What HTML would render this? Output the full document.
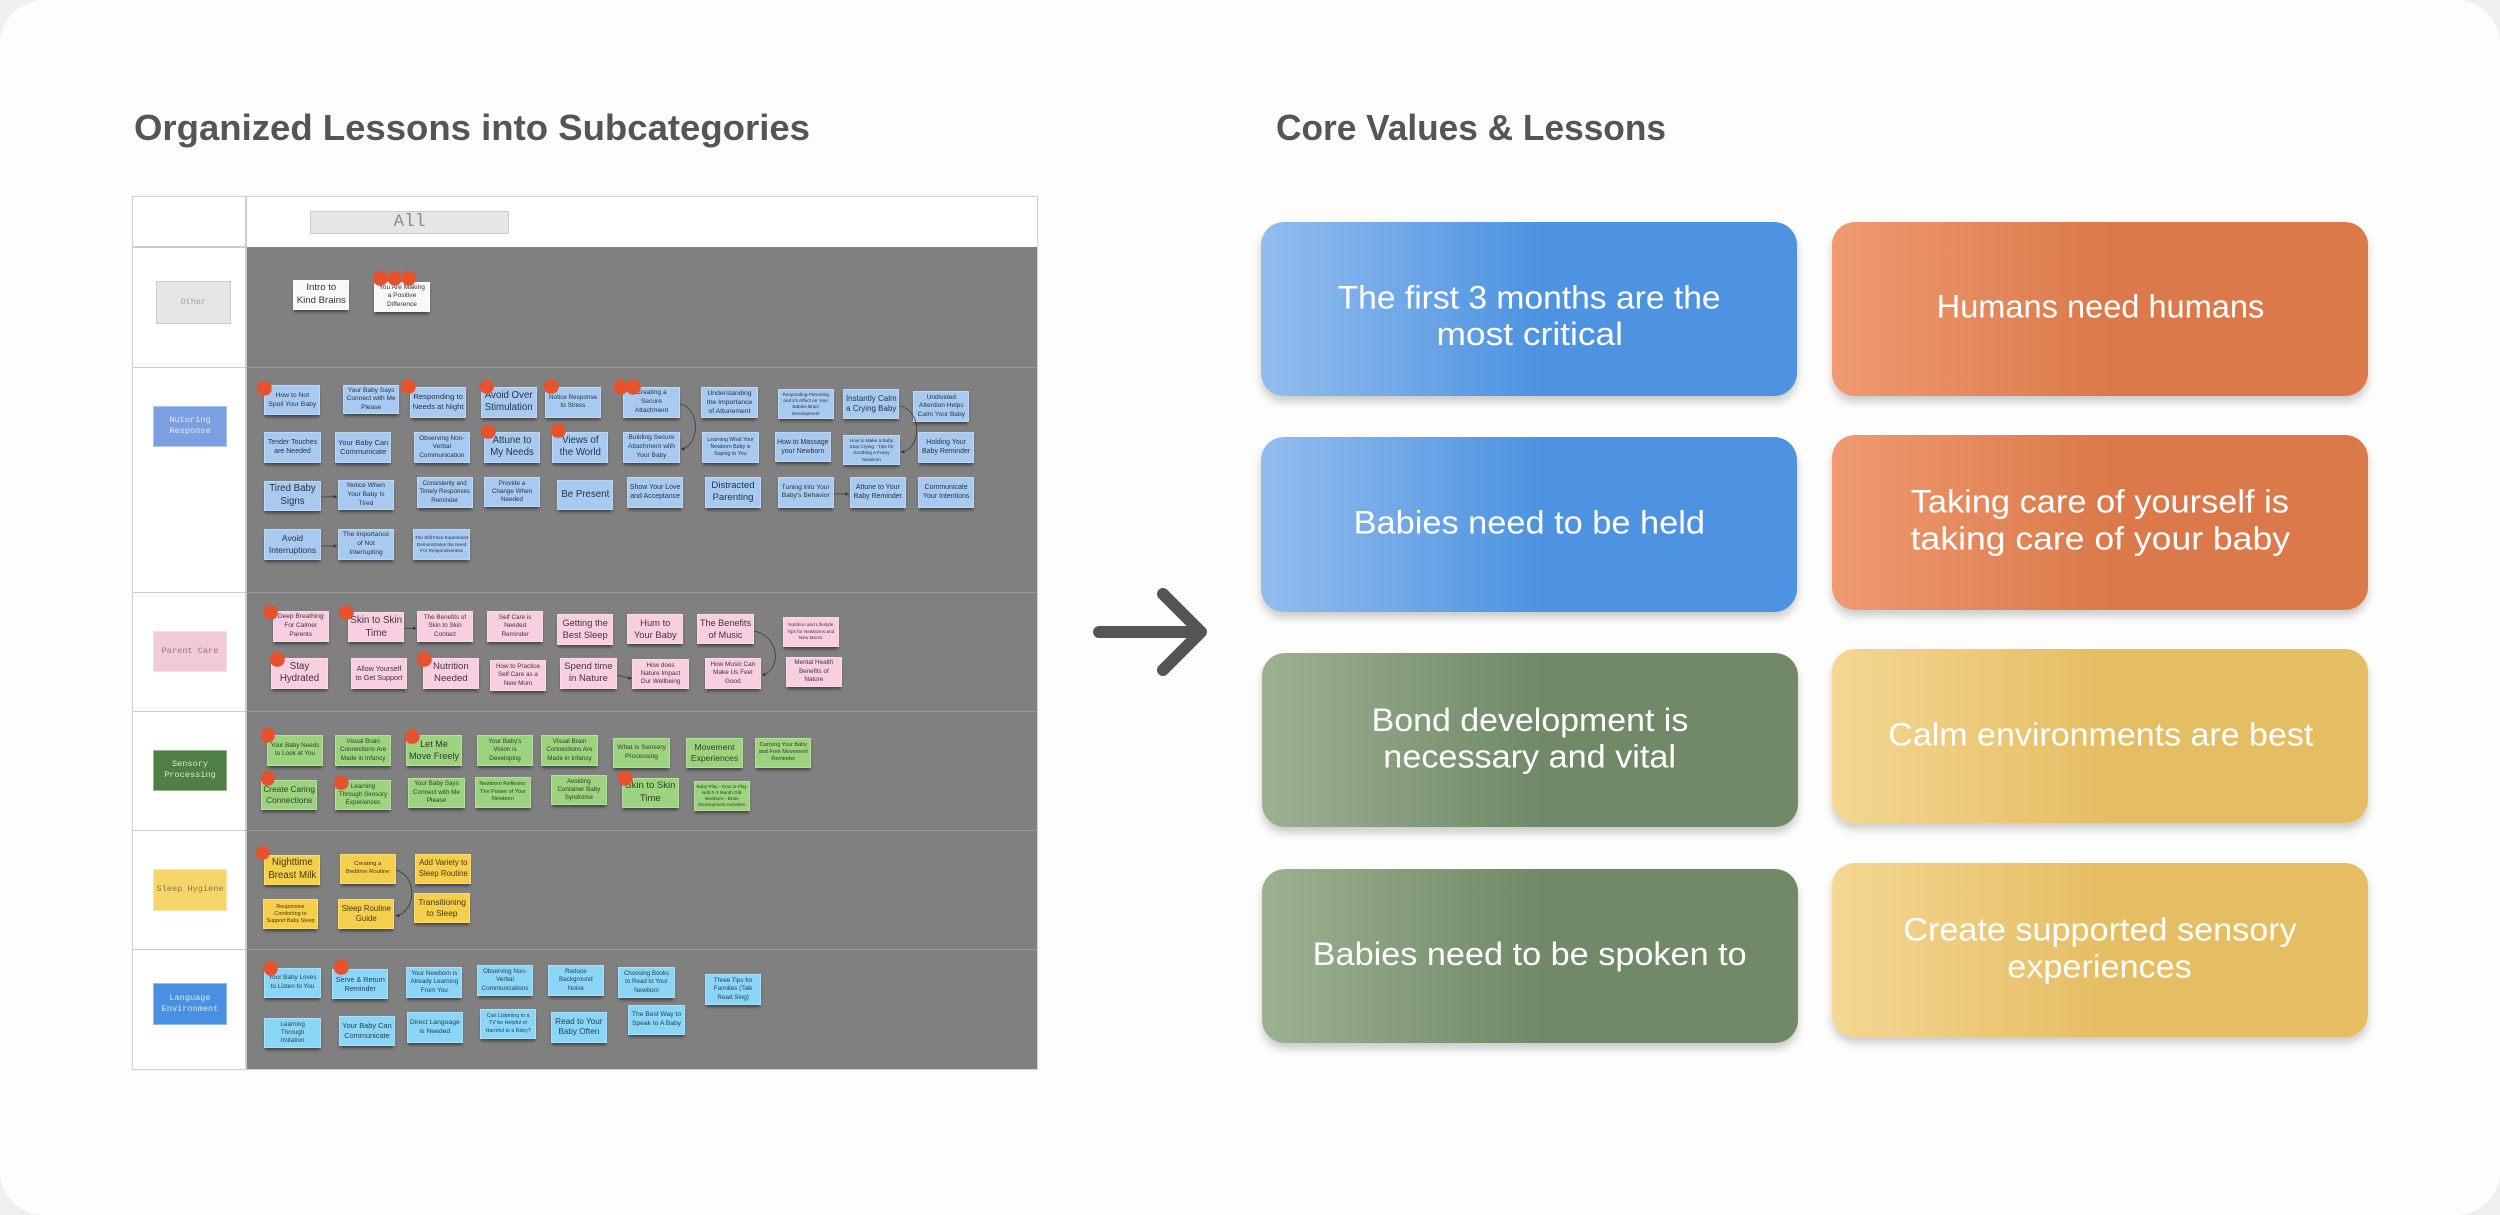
<!DOCTYPE html>
<html><head><meta charset="utf-8"><title>Core Values &amp; Lessons</title>
<style>
html,body{margin:0;padding:0;width:2500px;height:1215px;overflow:hidden;background:#efefef}
#p{position:absolute;left:0;top:0;width:2500px;height:1215px;background:#fdfdfb;border-radius:44px;overflow:hidden;font-family:"Liberation Sans",sans-serif}
#board{position:absolute;left:0;top:0;width:1100px;height:1100px;filter:blur(.35px)}
.r{position:absolute}
.n{position:absolute;display:flex;align-items:center;justify-content:center;text-align:center;white-space:nowrap;line-height:1.33;box-sizing:border-box;box-shadow:0 3px 3px -1px rgba(0,0,0,.5);color:#263443;border:.6px solid rgba(255,255,255,.28)}
.b{background:#a9caf0}.w{background:#f8f8f8;color:#333}.k{background:#f8cfe0;color:#43333b}.g{background:#9dd27f;color:#2a4425}.y{background:#f5cf4c;color:#443910}.c{background:#8bd5f7;color:#254453}
.d{position:absolute;width:14.5px;height:14.5px;border-radius:50%;background:#e5522e;transform:translate(-7.25px,-7.25px)}
.l{position:absolute;left:153.3px;width:73.4px;height:41.6px;display:flex;align-items:center;justify-content:center;text-align:center;font-family:"Liberation Mono",monospace;font-size:8.6px;line-height:11.3px;box-sizing:border-box;border:.7px solid rgba(255,255,255,.4)}
.card{position:absolute;border-radius:23px;box-shadow:0 6px 9px rgba(0,0,0,.2)}
.bl{left:1261px;width:536px;background:linear-gradient(90deg,#93bdee 0%,#4d93e1 52%)}
.gr{left:1261.5px;width:536px;background:linear-gradient(90deg,#9cb190 0%,#718966 52%)}
.or{left:1831.5px;width:536.5px;background:linear-gradient(90deg,#ef9a70 0%,#db794a 52%)}
.ye{left:1831.5px;width:536.5px;background:linear-gradient(90deg,#f4d793 0%,#e5bd62 52%)}
svg{position:absolute;left:0;top:0}
</style></head><body><div id="p">

<div id="board">
<div class="r" style="left:133px;top:197px;width:904px;height:872px;background:#fff;box-shadow:0 0 0 1.2px #d4d4d4"></div>
<div class="r" style="left:246px;top:247px;width:791px;height:822px;background:#808080"></div>
<div class="r" style="left:245.3px;top:197px;width:1.4px;height:872px;background:#ccc"></div>
<div class="r" style="left:133px;top:246.4px;width:113px;height:1.2px;background:#ccc"></div>
<div class="r" style="left:133px;top:366.5px;width:113px;height:1.4px;background:#ccc"></div>
<div class="r" style="left:133px;top:591.5px;width:113px;height:1.4px;background:#ccc"></div>
<div class="r" style="left:133px;top:710.5px;width:113px;height:1.4px;background:#ccc"></div>
<div class="r" style="left:133px;top:829.5px;width:113px;height:1.4px;background:#ccc"></div>
<div class="r" style="left:133px;top:948.5px;width:113px;height:1.4px;background:#ccc"></div>
<div class="r" style="left:246px;top:366.5px;width:791px;height:1.4px;background:#999"></div>
<div class="r" style="left:246px;top:591.5px;width:791px;height:1.4px;background:#999"></div>
<div class="r" style="left:246px;top:710.5px;width:791px;height:1.4px;background:#999"></div>
<div class="r" style="left:246px;top:829.5px;width:791px;height:1.4px;background:#999"></div>
<div class="r" style="left:246px;top:948.5px;width:791px;height:1.4px;background:#999"></div>

<div class="r" style="left:310px;top:211px;width:199px;height:23px;background:#e6e6e6;border:1px solid #ccc;box-sizing:border-box;text-align:center;font:17.8px/21px 'Liberation Mono',monospace;color:#8c8c8c">All</div>

<div class="l" style="top:281px;height:42.7px;left:156px;width:74.7px;background:#e6e6e6;border:1px solid #ccc;color:#a0a0a0">Other</div>
<div class="l" style="top:405.7px;background:#7ba0e2;color:#e2eafa">Nuturing<br>Response</div>
<div class="l" style="top:630.7px;background:#f1c9d7;color:#8a7a80">Parent Care</div>
<div class="l" style="top:749.7px;background:#4f7f42;color:#dce6d8">Sensory<br>Processing</div>
<div class="l" style="top:869px;background:#f8d568;color:#8a7a45">Sleep Hygiene</div>
<div class="l" style="top:983px;background:#4a90e2;color:#d8e8fa">Language<br>Environment</div>

<!-- Other -->
<div class="n w" style="left:293.3px;top:280px;width:56px;height:30px;font-size:9.6px">Intro to<br>Kind Brains</div>
<div class="n w" style="left:374px;top:281.7px;width:56px;height:30px;font-size:6.6px">You Are Making<br>a Positive<br>Difference</div>

<!-- Nurturing -->
<div class="n b" style="left:264.3px;top:385px;width:56px;height:30px;font-size:6.8px">How to Not<br>Spoil Your Baby</div>
<div class="n b" style="left:343px;top:385px;width:56.3px;height:29.3px;font-size:6.6px">Your Baby Says<br>Connect with Me<br>Please</div>
<div class="n b" style="left:410.3px;top:387.3px;width:55.7px;height:30.4px;font-size:7.7px">Responding to<br>Needs at Night</div>
<div class="n b" style="left:480.7px;top:387.3px;width:56px;height:30.4px;font-size:9.7px">Avoid Over<br>Stimulation</div>
<div class="n b" style="left:545px;top:387.3px;width:56px;height:30.4px;font-size:6.3px">Notice Response<br>to Stress</div>
<div class="n b" style="left:623.3px;top:387.3px;width:56.4px;height:30.4px;font-size:6.6px">Creating a<br>Secure<br>Attachment</div>
<div class="n b" style="left:701.3px;top:387.3px;width:56.4px;height:31px;font-size:6.8px">Understanding<br>the Importance<br>of Attunement</div>
<div class="n b" style="left:777.7px;top:389.3px;width:56px;height:30px;font-size:4.7px">Responding Parenting<br>and it's Affect on Your<br>Babies Brain<br>Development</div>
<div class="n b" style="left:843.3px;top:389.3px;width:56px;height:30px;font-size:8px">Instantly Calm<br>a Crying Baby</div>
<div class="n b" style="left:913.3px;top:391.3px;width:56px;height:31px;font-size:6.6px">Undivided<br>Attention Helps<br>Calm Your Baby</div>

<div class="n b" style="left:264.3px;top:432.3px;width:56.4px;height:30.4px;font-size:7px">Tender Touches<br>are Needed</div>
<div class="n b" style="left:335px;top:432.3px;width:56.3px;height:30.4px;font-size:7.5px">Your Baby Can<br>Communicate</div>
<div class="n b" style="left:413.7px;top:432.3px;width:56.3px;height:30.4px;font-size:6.5px">Observing Non-<br>Verbal<br>Communication</div>
<div class="n b" style="left:484px;top:432.3px;width:56px;height:30.4px;font-size:9.7px">Attune to<br>My Needs</div>
<div class="n b" style="left:552.3px;top:432.3px;width:56px;height:30.4px;font-size:9.7px">Views of<br>the World</div>
<div class="n b" style="left:623.3px;top:432.3px;width:56.4px;height:30.4px;font-size:6.6px">Building Secure<br>Attachment with<br>Your Baby</div>
<div class="n b" style="left:702.3px;top:432.3px;width:56.4px;height:30.4px;font-size:5.3px">Learning What Your<br>Newborn Baby is<br>Saying to You</div>
<div class="n b" style="left:775px;top:432.3px;width:55.7px;height:30px;font-size:6.9px">How to Massage<br>your Newborn</div>
<div class="n b" style="left:843.3px;top:435.3px;width:56.4px;height:30px;font-size:4.7px">How to Make a Baby<br>Stop Crying - Tips for<br>Soothing a Fussy<br>Newborn</div>
<div class="n b" style="left:918px;top:432.3px;width:56.3px;height:30.4px;font-size:7px">Holding Your<br>Baby Reminder</div>

<div class="n b" style="left:264.3px;top:480.7px;width:56.4px;height:30.3px;font-size:9.7px">Tired Baby<br>Signs</div>
<div class="n b" style="left:338px;top:480px;width:56px;height:30.3px;font-size:6.6px">Notice When<br>Your Baby Is<br>Tired</div>
<div class="n b" style="left:416.7px;top:477.3px;width:56px;height:30.4px;font-size:6.2px">Consistenly and<br>Timely Responses<br>Reminder</div>
<div class="n b" style="left:484px;top:477.3px;width:56px;height:30px;font-size:6.3px">Provide a<br>Change When<br>Needed</div>
<div class="n b" style="left:557.3px;top:480px;width:56px;height:30.3px;font-size:9.7px">Be Present</div>
<div class="n b" style="left:627px;top:477.3px;width:56.3px;height:30.4px;font-size:7px">Show Your Love<br>and Acceptance</div>
<div class="n b" style="left:705px;top:477.3px;width:56px;height:30.4px;font-size:9.6px">Distracted<br>Parenting</div>
<div class="n b" style="left:777.7px;top:477.3px;width:56px;height:30.4px;font-size:6.7px">Tuning into Your<br>Baby's Behavior</div>
<div class="n b" style="left:849.7px;top:477.3px;width:56.3px;height:30.4px;font-size:7px">Attune to Your<br>Baby Reminder</div>
<div class="n b" style="left:918px;top:477.3px;width:56.3px;height:30.4px;font-size:7px">Communicate<br>Your Intentions</div>

<div class="n b" style="left:264.3px;top:529.3px;width:56.4px;height:30.7px;font-size:8.5px">Avoid<br>Interruptions</div>
<div class="n b" style="left:338px;top:529.3px;width:56px;height:30.7px;font-size:6.6px">The Importance<br>of Not<br>Interrupting</div>
<div class="n b" style="left:413.3px;top:529.3px;width:56.7px;height:30.7px;font-size:4.7px">The Still Face Experiment<br>Demonstrates the Need<br>For Responsiveness</div>

<!-- Parent -->
<div class="n k" style="left:272.7px;top:611.3px;width:56px;height:30.7px;font-size:6.6px">Deep Breathing<br>For Calmer<br>Parents</div>
<div class="n k" style="left:348px;top:612px;width:56.3px;height:30px;font-size:9.8px">Skin to Skin<br>Time</div>
<div class="n k" style="left:417px;top:611.3px;width:56px;height:30.7px;font-size:6.3px">The Benefits of<br>Skin to Skin<br>Contact</div>
<div class="n k" style="left:487px;top:611.3px;width:56.3px;height:30.7px;font-size:6.3px">Self Care is<br>Needed<br>Reminder</div>
<div class="n k" style="left:557px;top:614.3px;width:56.3px;height:30.4px;font-size:9.3px">Getting the<br>Best Sleep</div>
<div class="n k" style="left:627.3px;top:614px;width:56px;height:30.3px;font-size:9.4px">Hum to<br>Your Baby</div>
<div class="n k" style="left:697.3px;top:614px;width:56.4px;height:30.3px;font-size:9.1px">The Benefits<br>of Music</div>
<div class="n k" style="left:782.7px;top:616.7px;width:56px;height:30px;font-size:4.7px">Nutrition and Lifestyle<br>Tips for Newborns and<br>New Moms</div>

<div class="n k" style="left:271.3px;top:658.3px;width:56.4px;height:30.4px;font-size:9.7px">Stay<br>Hydrated</div>
<div class="n k" style="left:351px;top:658.3px;width:56px;height:30.4px;font-size:7.2px">Allow Yourself<br>to Get Support</div>
<div class="n k" style="left:422.7px;top:658.3px;width:56.3px;height:30.4px;font-size:9.6px">Nutrition<br>Needed</div>
<div class="n k" style="left:489.7px;top:660.3px;width:56.6px;height:30.7px;font-size:6.3px">How to Practice<br>Self Care as a<br>New Mom</div>
<div class="n k" style="left:560px;top:658.3px;width:56.7px;height:30.4px;font-size:9.6px">Spend time<br>in Nature</div>
<div class="n k" style="left:632.3px;top:659.3px;width:56.4px;height:30px;font-size:6.3px">How does<br>Nature Impact<br>Our Wellbeing</div>
<div class="n k" style="left:705px;top:658.3px;width:55.7px;height:30.4px;font-size:6.4px">How Music Can<br>Make Us Feel<br>Good</div>
<div class="n k" style="left:785.7px;top:656.7px;width:56.3px;height:30.3px;font-size:6.3px">Mental Health<br>Benefits of<br>Nature</div>

<!-- Sensory -->
<div class="n g" style="left:267px;top:735.3px;width:56px;height:30.4px;font-size:6.3px">Your Baby Needs<br>to Look at You</div>
<div class="n g" style="left:335px;top:735.3px;width:56.3px;height:30.4px;font-size:6.3px">Visual Brain<br>Connections Are<br>Made in Infancy</div>
<div class="n g" style="left:406px;top:735.3px;width:56px;height:30.4px;font-size:9.1px">Let Me<br>Move Freely</div>
<div class="n g" style="left:477px;top:735.3px;width:56px;height:30.4px;font-size:6.3px">Your Baby's<br>Vision is<br>Developing</div>
<div class="n g" style="left:541.3px;top:735.3px;width:56.4px;height:30.4px;font-size:6.3px">Visual Brain<br>Connections Are<br>Made in Infancy</div>
<div class="n g" style="left:613.3px;top:737.7px;width:56.4px;height:30px;font-size:6.7px">What is Sensory<br>Processing</div>
<div class="n g" style="left:686.3px;top:737.7px;width:56.4px;height:30.6px;font-size:8.6px">Movement<br>Experiences</div>
<div class="n g" style="left:755.3px;top:737.7px;width:56px;height:30px;font-size:5.5px">Carrying Your Baby<br>and Free Movement<br>Reminder</div>

<div class="n g" style="left:261.3px;top:780px;width:55.7px;height:30.3px;font-size:8.3px">Create Caring<br>Connections</div>
<div class="n g" style="left:334.7px;top:780px;width:56.6px;height:30.3px;font-size:6.3px">Learning<br>Through Sensory<br>Experiences</div>
<div class="n g" style="left:408.3px;top:777.7px;width:56.4px;height:30.3px;font-size:6.3px">Your Baby Says<br>Connect with Me<br>Please</div>
<div class="n g" style="left:475px;top:777.3px;width:56px;height:30.4px;font-size:5.6px">Newborn Reflexes:<br>The Power of Your<br>Newborn</div>
<div class="n g" style="left:551px;top:775px;width:55.7px;height:30.3px;font-size:6.2px">Avoiding<br>Container Baby<br>Syndrome</div>
<div class="n g" style="left:622px;top:777.7px;width:56.7px;height:30.3px;font-size:9.5px">Skin to Skin<br>Time</div>
<div class="n g" style="left:693.7px;top:781px;width:56px;height:30px;font-size:4.7px">Baby Play - How to Play<br>with 0-3 Month Old<br>Newborn - Brain<br>Development Activities</div>

<!-- Sleep -->
<div class="n y" style="left:264.3px;top:855px;width:56px;height:30.3px;font-size:9.7px">Nighttime<br>Breast Milk</div>
<div class="n y" style="left:339.7px;top:853.7px;width:56px;height:30.3px;font-size:5.9px">Creating a<br>Bedtime Routine</div>
<div class="n y" style="left:415.3px;top:853.7px;width:56px;height:30.3px;font-size:7.8px">Add Variety to<br>Sleep Routine</div>
<div class="n y" style="left:262.7px;top:899.3px;width:55.6px;height:30px;font-size:5.4px">Responsive<br>Comforting to<br>Support Baby Sleep</div>
<div class="n y" style="left:338.3px;top:899.3px;width:56px;height:30px;font-size:7.8px">Sleep Routine<br>Guide</div>
<div class="n y" style="left:414px;top:893.3px;width:56.3px;height:30px;font-size:8.4px">Transitioning<br>to Sleep</div>

<!-- Language -->
<div class="n c" style="left:264.3px;top:967.7px;width:56.4px;height:30px;font-size:6.4px">Your Baby Loves<br>to Listen to You</div>
<div class="n c" style="left:332.3px;top:969.3px;width:56px;height:30px;font-size:7.2px">Serve &amp; Return<br>Reminder</div>
<div class="n c" style="left:406.3px;top:967.3px;width:56px;height:30.4px;font-size:6.3px">Your Newborn is<br>Already Learning<br>From You</div>
<div class="n c" style="left:477px;top:965.3px;width:56px;height:30.7px;font-size:6.3px">Observing Non-<br>Verbal<br>Communications</div>
<div class="n c" style="left:547.7px;top:965.3px;width:56.3px;height:30.7px;font-size:6.3px">Reduce<br>Background<br>Noise</div>
<div class="n c" style="left:618.3px;top:967.3px;width:56.4px;height:30.4px;font-size:6.2px">Choosing Books<br>to Read to Your<br>Newborn</div>
<div class="n c" style="left:705px;top:974.3px;width:56.3px;height:30.7px;font-size:6.3px">Three Tips for<br>Families (Talk<br>Read Sing)</div>

<div class="n c" style="left:264.3px;top:1018px;width:56.7px;height:30.3px;font-size:6.3px">Learning<br>Through<br>Imitation</div>
<div class="n c" style="left:339px;top:1016px;width:56px;height:30.3px;font-size:7.4px">Your Baby Can<br>Communicate</div>
<div class="n c" style="left:406.7px;top:1012.3px;width:56.3px;height:30.4px;font-size:6.8px">Direct Language<br>is Needed</div>
<div class="n c" style="left:480px;top:1008.7px;width:56.3px;height:30.6px;font-size:5.3px">Can Listening to a<br>TV be Helpful or<br>Harmful to a Baby?</div>
<div class="n c" style="left:551px;top:1012.3px;width:55.7px;height:30.4px;font-size:8.2px">Read to Your<br>Baby Often</div>
<div class="n c" style="left:628.3px;top:1005.3px;width:56.4px;height:30px;font-size:6.7px">The Best Way to<br>Speak to A Baby</div>

<svg width="1100" height="1100" viewBox="0 0 1100 1100">
<defs><marker id="m" markerUnits="userSpaceOnUse" markerWidth="4" markerHeight="4" refX="3.4" refY="2" orient="auto"><path d="M0,0.3L3.6,2L0,3.7z" fill="#333"/></marker></defs>
<g fill="none" stroke="#3a3a3a" stroke-width=".8">
<path d="M321,497L337,496.6" marker-end="url(#m)"/>
<path d="M321.5,546L337,546" marker-end="url(#m)"/>
<path d="M834,494L848.7,494" marker-end="url(#m)"/>
<path d="M404.5,628.3L416.5,628.3" marker-end="url(#m)"/>
<path d="M617.3,675L631.7,678.7" marker-end="url(#m)"/>
<path d="M680,404C701,408 700,446 681,449.3" marker-end="url(#m)"/>
<path d="M900,406C922,410 922,450 901,452" marker-end="url(#m)"/>
<path d="M754,631C782,637 780,672 762,675" marker-end="url(#m)"/>
<path d="M396,870C418,876 416,912 396,916" marker-end="url(#m)"/>
</g>
</svg>

<div class="d" style="left:380.3px;top:278.3px"></div><div class="d" style="left:394.7px;top:278.3px"></div><div class="d" style="left:408.7px;top:278.3px"></div>
<div class="d" style="left:264px;top:388.3px"></div><div class="d" style="left:408.3px;top:386.7px"></div><div class="d" style="left:486.7px;top:386.7px"></div><div class="d" style="left:551px;top:386.7px"></div>
<div class="d" style="left:620.7px;top:387px"></div><div class="d" style="left:633.3px;top:387px"></div>
<div class="d" style="left:488px;top:431.7px"></div><div class="d" style="left:558.3px;top:430.7px"></div>
<div class="d" style="left:270.7px;top:612px"></div><div class="d" style="left:346.3px;top:612.7px"></div>
<div class="d" style="left:277.3px;top:659px"></div><div class="d" style="left:424.3px;top:659px"></div>
<div class="d" style="left:267.7px;top:735px"></div><div class="d" style="left:412.3px;top:736.7px"></div>
<div class="d" style="left:267.7px;top:778.3px"></div><div class="d" style="left:341px;top:782.7px"></div><div class="d" style="left:625.3px;top:778.3px"></div>
<div class="d" style="left:262.7px;top:852.7px"></div>
<div class="d" style="left:270.7px;top:968px"></div><div class="d" style="left:341px;top:967.3px"></div>
</div>

<div class="card bl" style="top:221.7px;height:174.3px"></div>
<div class="card bl" style="top:437.3px;height:174.4px"></div>
<div class="card gr" style="top:653.3px;height:174px"></div>
<div class="card gr" style="top:869px;height:174.3px"></div>
<div class="card or" style="top:221.7px;height:174.3px"></div>
<div class="card or" style="top:435.3px;height:174.7px"></div>
<div class="card ye" style="top:649.3px;height:174px"></div>
<div class="card ye" style="top:862.7px;height:174.6px"></div>

<svg width="2500" height="1215" viewBox="0 0 2500 1215">
<g font-family="'Liberation Sans',sans-serif" font-weight="bold" font-size="36" fill="#555">
<text x="134" y="140" textLength="676" lengthAdjust="spacingAndGlyphs">Organized Lessons into Subcategories</text>
<text x="1276" y="140" textLength="390" lengthAdjust="spacingAndGlyphs">Core Values &amp; Lessons</text>
</g>
<g font-family="'Liberation Sans',sans-serif" font-size="32" fill="#fff">
<text x="1337.6" y="308.3" textLength="383" lengthAdjust="spacingAndGlyphs">The first 3 months are the</text>
<text x="1436.5" y="345" textLength="186.5" lengthAdjust="spacingAndGlyphs">most critical</text>
<text x="1353.6" y="533.3" textLength="351.4" lengthAdjust="spacingAndGlyphs">Babies need to be held</text>
<text x="1371.7" y="731" textLength="316.6" lengthAdjust="spacingAndGlyphs">Bond development is</text>
<text x="1383.3" y="767.7" textLength="292.7" lengthAdjust="spacingAndGlyphs">necessary and vital</text>
<text x="1312.7" y="965" textLength="434" lengthAdjust="spacingAndGlyphs">Babies need to be spoken to</text>
<text x="1936.7" y="317.7" textLength="327.6" lengthAdjust="spacingAndGlyphs">Humans need humans</text>
<text x="1910.7" y="512.7" textLength="378.3" lengthAdjust="spacingAndGlyphs">Taking care of yourself is</text>
<text x="1910.7" y="549.3" textLength="379.3" lengthAdjust="spacingAndGlyphs">taking care of your baby</text>
<text x="1888.3" y="745.7" textLength="425" lengthAdjust="spacingAndGlyphs">Calm environments are best</text>
<text x="1903.3" y="940.7" textLength="393.4" lengthAdjust="spacingAndGlyphs">Create supported sensory</text>
<text x="2007.3" y="977.3" textLength="184.4" lengthAdjust="spacingAndGlyphs">experiences</text>
</g>
<g fill="none" stroke="#555" stroke-width="12" stroke-linecap="round" stroke-linejoin="round">
<path d="M1099,632H1200"/>
<path d="M1163,594L1201,632L1163,670"/>
</g>
</svg>
</div></body></html>
